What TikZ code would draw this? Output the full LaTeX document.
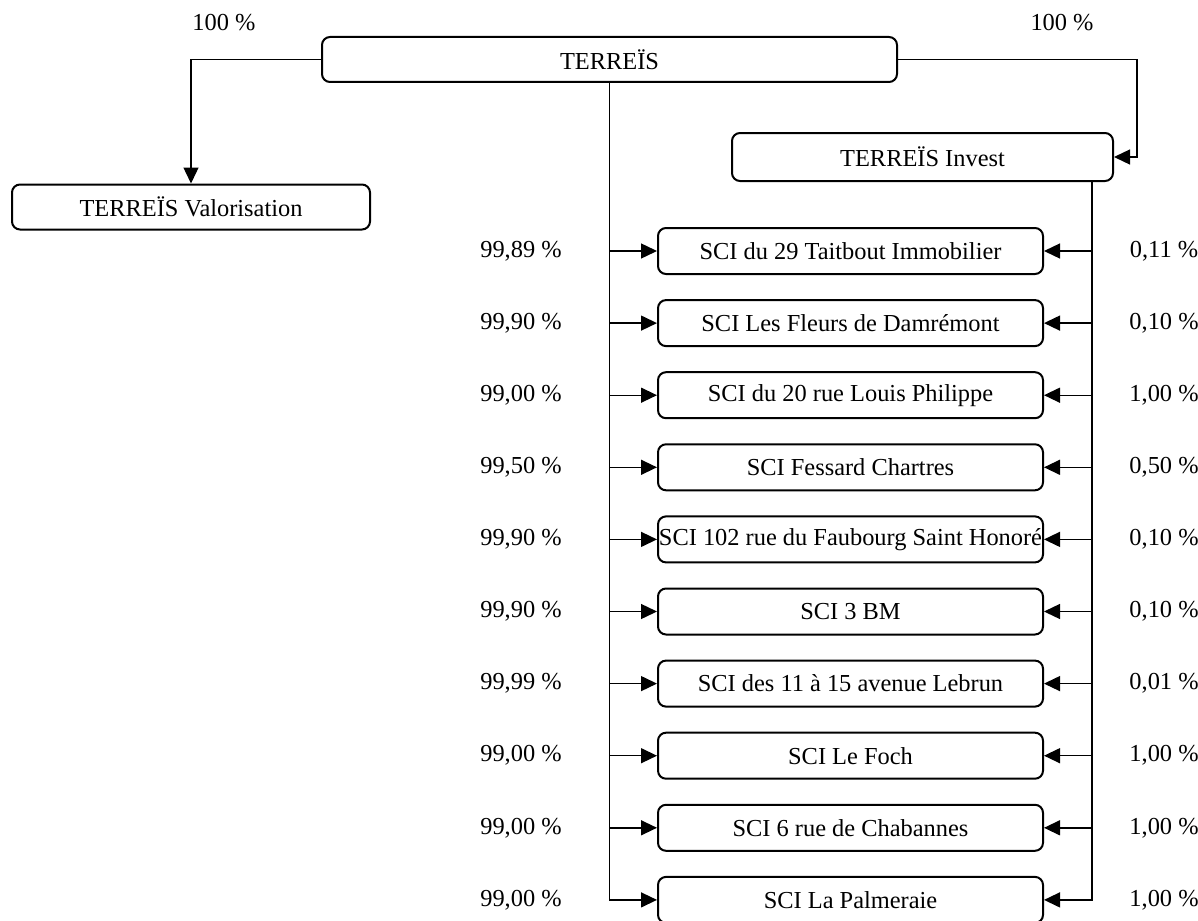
\documentclass[tikz,border=0pt]{standalone}
\usepackage{fontspec}
\setmainfont{Liberation Serif}
\usetikzlibrary{arrows.meta}
\tikzset{
  box/.style={draw, line width=1pt, rounded corners=4pt, inner sep=0pt, align=center},
  sci/.style={box, minimum width=192.5pt, minimum height=23pt},
  link/.style={line width=0.7pt},
  arr/.style={link, -{Triangle[length=8pt,width=7.5pt]}},
  pct/.style={inner sep=0pt}
}
\begin{document}
\begin{tikzpicture}[x=0.5pt, y=-0.5pt, font=\fontsize{12.2}{14}\selectfont]
\useasboundingbox (0,0) rectangle (1198,920);
\node[box, minimum width=287.5pt, minimum height=22.5pt] (terreis) at (609.5,59.5) {TERREÏS};
\node[box, minimum width=179pt, minimum height=22.5pt] (valo) at (191,207) {TERREÏS Valorisation};
\node[box, minimum width=190.5pt, minimum height=24pt] (invest) at (922.5,157) {TERREÏS Invest};
\node[pct] (p0l) at (224,23) {100 \%};
\node[pct] (p0r) at (1062,23) {100 \%};
\coordinate (rturn) at (1137,157);
\coordinate (ib) at (1092,181);
% filiales
\node[sci] (s1) at (850.5,251) {SCI du 29 Taitbout Immobilier};
\node[sci] (s2) at (850.5,323.1) {SCI Les Fleurs de Damrémont};
\node[sci] (s3) at (850.5,395.2) {SCI du 20 rue Louis Philippe};
\node[sci] (s4) at (850.5,467.3) {SCI Fessard Chartres};
\node[sci] (s5) at (850.5,539.4) {SCI 102 rue du Faubourg Saint Honoré};
\node[sci] (s6) at (850.5,611.5) {SCI 3 BM};
\node[sci] (s7) at (850.5,683.6) {SCI des 11 à 15 avenue Lebrun};
\node[sci] (s8) at (850.5,755.7) {SCI Le Foch};
\node[sci] (s9) at (850.5,827.8) {SCI 6 rue de Chabannes};
\node[sci] (s10) at (850.5,899.9) {SCI La Palmeraie};
% pourcentages
\node[pct] (p1l) at (521,251) {99,89 \%};
\node[pct] (p2l) at (521,323.1) {99,90 \%};
\node[pct] (p3l) at (521,395.2) {99,00 \%};
\node[pct] (p4l) at (521,467.3) {99,50 \%};
\node[pct] (p5l) at (521,539.4) {99,90 \%};
\node[pct] (p6l) at (521,611.5) {99,90 \%};
\node[pct] (p7l) at (521,683.6) {99,99 \%};
\node[pct] (p8l) at (521,755.7) {99,00 \%};
\node[pct] (p9l) at (521,827.8) {99,00 \%};
\node[pct] (p10l) at (521,899.9) {99,00 \%};
\node[pct] (p1r) at (1164,251) {0,11 \%};
\node[pct] (p2r) at (1164,323.1) {0,10 \%};
\node[pct] (p3r) at (1164,395.2) {1,00 \%};
\node[pct] (p4r) at (1164,467.3) {0,50 \%};
\node[pct] (p5r) at (1164,539.4) {0,10 \%};
\node[pct] (p6r) at (1164,611.5) {0,10 \%};
\node[pct] (p7r) at (1164,683.6) {0,01 \%};
\node[pct] (p8r) at (1164,755.7) {1,00 \%};
\node[pct] (p9r) at (1164,827.8) {1,00 \%};
\node[pct] (p10r) at (1164,899.9) {1,00 \%};
\draw[arr] (terreis.west) -| (valo.north);
\draw[arr] (terreis.east) -| (rturn) -- (invest.east);
\draw[arr] (terreis.south) |- (s1.west);
\draw[arr] (terreis.south) |- (s2.west);
\draw[arr] (terreis.south) |- (s3.west);
\draw[arr] (terreis.south) |- (s4.west);
\draw[arr] (terreis.south) |- (s5.west);
\draw[arr] (terreis.south) |- (s6.west);
\draw[arr] (terreis.south) |- (s7.west);
\draw[arr] (terreis.south) |- (s8.west);
\draw[arr] (terreis.south) |- (s9.west);
\draw[arr] (terreis.south) |- (s10.west);
\draw[arr] (ib) |- (s1.east);
\draw[arr] (ib) |- (s2.east);
\draw[arr] (ib) |- (s3.east);
\draw[arr] (ib) |- (s4.east);
\draw[arr] (ib) |- (s5.east);
\draw[arr] (ib) |- (s6.east);
\draw[arr] (ib) |- (s7.east);
\draw[arr] (ib) |- (s8.east);
\draw[arr] (ib) |- (s9.east);
\draw[arr] (ib) |- (s10.east);
\end{tikzpicture}
\end{document}
